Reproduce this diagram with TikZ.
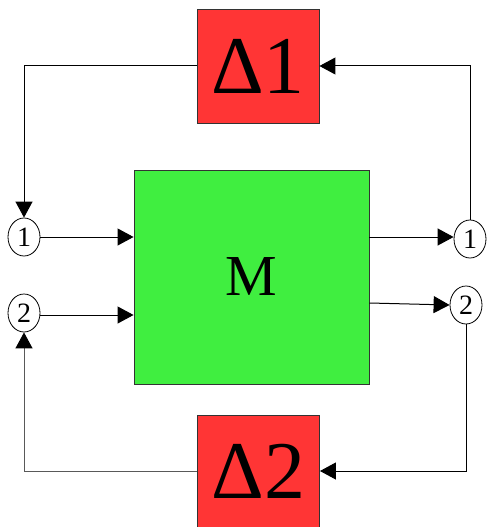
\documentclass[tikz,border=0pt]{standalone}
\usepackage{fontspec}
\setmainfont{Liberation Serif}
\usetikzlibrary{positioning, arrows.meta, shapes.geometric, calc}
\definecolor{blockred}{HTML}{FF3535}
\definecolor{plantgreen}{HTML}{40EE40}

\begin{document}
\begin{tikzpicture}[
      x=1pt, y=-1pt,
      deltabox/.style={draw=black!80, line width=0.9pt, fill=blockred, minimum width=122pt, minimum height=114pt, inner sep=0pt, font=\fontsize{82}{82}\selectfont},
      plantbox/.style={draw=black!80, line width=0.9pt, fill=plantgreen, minimum width=235pt, minimum height=214pt, inner sep=0pt, font=\fontsize{58}{58}\selectfont},
      port/.style={draw, line width=0.8pt, ellipse, minimum width=32pt, minimum height=38pt, inner sep=0pt, font=\fontsize{28}{28}\selectfont},
      link/.style={line width=1pt},
      >={Triangle[length=16pt, width=17pt]},
    ]
    \useasboundingbox (0,0) rectangle (487,527);

    \node[deltabox] (d1) at (258, 66) {Δ1};
    \node[deltabox, minimum height=112pt] (d2) at (258.5, 471) {Δ2};
    \node[plantbox] (M) at (251.5, 277) {M};

    \node[port] (in1) at (24, 237) {1};
    \node[port] (in2) at (24, 313) {2};
    \node[port] (out1) at (470, 239) {1};
    \node[port] (out2) at (466, 305) {2};

    % into and out of M
    \draw[->, link] (in1.east) -- (in1.east -| M.west);
    \draw[->, link] ($(in2.east)+(0,2)$) -- ($(in2.east -| M.west)+(0,2)$);
    \draw[->, link] ($(out1.west -| M.east)+(0,-2)$) -- ($(out1.west)+(0,-2)$);
    \draw[->, link] ($(out2.west -| M.east)+(0,-2)$) -- (out2.west);

    % feedback loops
    \draw[->, link] (d1.west) -- (d1.west -| in1) -- (in1.north);
    \draw[->, link] (out1.north) -- (out1 |- d1.east) -- (d1.east);
    \draw[->, link] (out2.south) -- (out2 |- d2.east) -- (d2.east);
    \draw[-{Triangle[length=16pt, width=17pt, black]}, link, black!65] (d2.west) -- (d2.west -| in2) -- (in2.south);
  \end{tikzpicture}
\end{document}
